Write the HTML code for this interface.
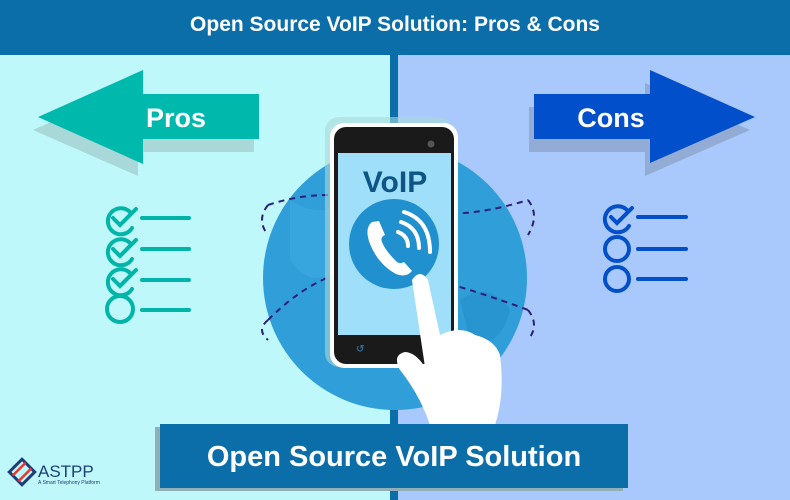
<!DOCTYPE html>
<html><head><meta charset="utf-8"><style>
html,body{margin:0;padding:0;width:790px;height:500px;overflow:hidden}
text{font-family:"Liberation Sans",sans-serif;font-weight:bold}
</style></head><body>
<svg width="790" height="500" viewBox="0 0 790 500" xmlns="http://www.w3.org/2000/svg">
<rect x="0" y="0" width="394" height="500" fill="#bff8fb"/>
<rect x="394" y="0" width="396" height="500" fill="#a9c8fb"/>
<rect x="390" y="0" width="8" height="500" fill="#0b6ea9"/>
<rect x="0" y="0" width="790" height="55" fill="#0b6ea9"/>
<text x="395" y="31" font-size="21" fill="#fff" text-anchor="middle">Open Source VoIP Solution: Pros &amp; Cons</text>

<!-- Pros arrow -->
<polygon points="33,130 138,83 138,107 254,107 254,152 138,152 138,176" fill="#a8d8d8"/>
<polygon points="38,117 143,70 143,94 259,94 259,139 143,139 143,164" fill="#00b9ad"/>
<text x="176" y="127" font-size="27" fill="#fff" text-anchor="middle">Pros</text>
<g stroke="#00b5a8" stroke-width="4" fill="none" stroke-linecap="round">
<path d="M130,212 A13,13 0 1,0 132,228"/><path d="M113,218 l7,7 l16,-16"/>
<path d="M130,243 A13,13 0 1,0 132,259"/><path d="M113,249 l7,7 l16,-16"/>
<path d="M130,273 A13,13 0 1,0 132,289"/><path d="M113,279 l7,7 l16,-16"/>
<circle cx="120" cy="309" r="13"/>
<line x1="142" y1="218" x2="189" y2="218"/><line x1="142" y1="249" x2="189" y2="249"/>
<line x1="142" y1="280" x2="189" y2="280"/><line x1="142" y1="310" x2="189" y2="310"/>
</g>

<!-- Cons arrow -->
<polygon points="529,107 645,107 645,83 750,130 645,176 645,152 529,152" fill="#93acd6"/>
<polygon points="534,94 650,94 650,70 755,117 650,163 650,139 534,139" fill="#014fcb"/>
<text x="611" y="127" font-size="27" fill="#fff" text-anchor="middle">Cons</text>
<g stroke="#024fc8" stroke-width="4" fill="none" stroke-linecap="round">
<path d="M627,210 A13,13 0 1,0 629,226"/><path d="M611,217 l6,6 l15,-15"/>
<circle cx="617" cy="249" r="12"/><circle cx="617" cy="279" r="12"/>
<line x1="638" y1="217" x2="686" y2="217"/><line x1="638" y1="249" x2="686" y2="249"/><line x1="638" y1="279" x2="686" y2="279"/>
</g>

<!-- Globe -->
<circle cx="395" cy="278" r="132" fill="#2f9ed9"/>
<path d="M290,200 q30,20 60,0 q20,40 -10,70 q-30,20 -50,-10z" fill="#3aa8e0" opacity=".7"/>
<path d="M460,300 q30,-20 50,10 q-10,40 -40,30z" fill="#2590cc" opacity=".7"/>
<g stroke="#2a1f7a" stroke-width="2" fill="none" stroke-dasharray="6,5">
<path d="M268,205 q60,-20 120,0 q60,20 140,-5"/>
<path d="M268,320 q60,-60 120,-50 q60,10 140,40"/>
<path d="M268,205 q-12,15 0,30"/><path d="M528,200 q12,15 0,35"/>
<path d="M268,320 q-12,10 0,20"/><path d="M528,310 q12,15 0,30"/>
</g>
<!-- Phone -->
<rect x="325" y="117" width="127" height="250" rx="14" fill="#a8d8d8" opacity=".6"/>
<rect x="330" y="123" width="128" height="245" rx="14" fill="#fff"/>
<rect x="334" y="127" width="120" height="237" rx="12" fill="#1a1a1a"/>
<circle cx="431" cy="144" r="3.5" fill="#555"/>
<rect x="338" y="153" width="113" height="182" fill="#9fdff9"/>
<text x="395" y="192" font-size="30" fill="#0d5585" text-anchor="middle">VoIP</text>
<circle cx="394" cy="244" r="45" fill="#2190cf"/>
<path d="M372,222 q-8,6 -2,22 q8,20 26,30 q10,4 16,-3 l-8,-9 q-5,3 -9,-2 q-10,-10 -13,-18 q-2,-5 3,-7 l-6,-14z" fill="#fff"/>
<g stroke="#fff" stroke-width="4" fill="none" stroke-linecap="round">
<path d="M398,232 q10,4 10,14"/><path d="M401,222 q18,6 18,26"/><path d="M404,212 q26,8 26,40"/>
</g>
<text x="356" y="352" font-size="10" fill="#2b6c96">↺</text>
<!-- Hand -->
<path d="M412,280 q8,-12 16,0 l12,55 q20,-10 35,0 q20,5 25,20 q5,40 -5,70 l-65,0 q-10,-30 -30,-55 q-8,-15 5,-18 q10,0 20,15z" fill="#fff"/>
<!-- Bottom box -->
<rect x="155" y="427" width="468" height="64" fill="#8fb0b6"/>
<rect x="160" y="424" width="468" height="64" fill="#0b6ea9"/>
<text x="394" y="466" font-size="29" fill="#fff" text-anchor="middle">Open Source VoIP Solution</text>
<!-- Logo -->
<g transform="translate(22,472) rotate(45)">
<rect x="-9" y="-9" width="18" height="18" fill="none" stroke="#1c3f7a" stroke-width="3"/>
<line x1="-4" y1="-9" x2="-4" y2="9" stroke="#e53935" stroke-width="2.5"/>
<line x1="4" y1="-9" x2="4" y2="9" stroke="#e53935" stroke-width="2.5"/>
</g>
<text x="38" y="477" font-size="17" fill="#1c3f7a" style="font-weight:normal">ASTPP</text>
<text x="38" y="484" font-size="5" fill="#1c3f7a" style="font-weight:normal">A Smart Telephony Platform</text>
</svg>
</body></html>
